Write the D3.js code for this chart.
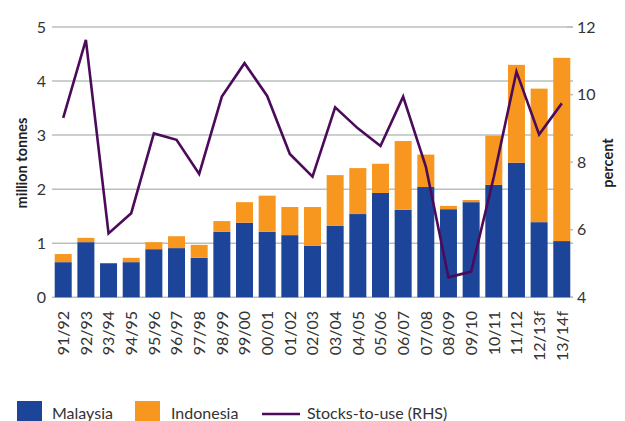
<!DOCTYPE html>
<html><head><meta charset="utf-8">
<script src="https://cdn.jsdelivr.net/npm/d3@7"></script>
<style>body{margin:0;background:#fff}svg{display:block}text{font-family:Lato,"Open Sans",sans-serif}</style>
</head><body><svg id="c" width="625" height="421"></svg>
<script>
const categories = ["91/92","92/93","93/94","94/95","95/96","96/97","97/98","98/99","99/00","00/01","01/02","02/03","03/04","04/05","05/06","06/07","07/08","08/09","09/10","10/11","11/12","12/13f","13/14f"];
const malaysia = [0.65,1.02,0.63,0.65,0.89,0.91,0.73,1.21,1.38,1.21,1.15,0.95,1.32,1.54,1.93,1.62,2.04,1.63,1.76,2.08,2.49,1.39,1.04];
const totals   = [0.80,1.10,0.63,0.73,1.02,1.13,0.97,1.41,1.76,1.88,1.67,1.67,2.26,2.39,2.47,2.89,2.64,1.69,1.80,2.99,4.30,3.86,4.43];
const indonesia = totals.map((t,i)=>+(t-malaysia[i]).toFixed(2));
const stocksToUse = [9.31,11.62,5.89,6.49,8.85,8.66,7.65,9.94,10.93,9.96,8.24,7.57,9.62,9.00,8.48,9.94,7.87,4.59,4.76,7.56,10.68,8.82,9.74];
const leftTicks = [0,1,2,3,4,5];
const rightTicks = [4,6,8,10,12];

const svg = d3.select("#c");
const x0 = 52, x1 = 573, yTop = 27, yBot = 297.3;
const x = d3.scaleBand().domain(categories).range([x0, x1]).paddingInner(0.25).paddingOuter(0.12);
const yL = d3.scaleLinear().domain([0,5]).range([yBot, yTop]);
const yR = d3.scaleLinear().domain([4,12]).range([yBot, yTop]);
const grid = "#b7c0bd";

// gridlines
svg.append("g").selectAll("line").data(leftTicks).join("line")
  .attr("x1", x0).attr("x2", x1).attr("y1", d=>yL(d)).attr("y2", d=>yL(d))
  .attr("stroke", grid).attr("stroke-width", 1.5);
// right ticks
svg.append("g").selectAll("line").data(rightTicks).join("line")
  .attr("x1", 567).attr("x2", x1).attr("y1", d=>yR(d)).attr("y2", d=>yR(d))
  .attr("stroke", grid).attr("stroke-width", 1.5);

// bars
const bars = svg.append("g");
bars.selectAll("rect.m").data(categories).join("rect").attr("class","m")
  .attr("x", d=>x(d)).attr("width", x.bandwidth())
  .attr("y", (d,i)=>yL(malaysia[i])).attr("height", (d,i)=>yL(0)-yL(malaysia[i]))
  .attr("fill", "#1c4599");
bars.selectAll("rect.i").data(categories).join("rect").attr("class","i")
  .attr("x", d=>x(d)).attr("width", x.bandwidth())
  .attr("y", (d,i)=>yL(malaysia[i]+indonesia[i])).attr("height", (d,i)=>yL(malaysia[i])-yL(malaysia[i]+indonesia[i]))
  .attr("fill", "#f7971f");

// line
const line = d3.line().x((d,i)=>x(categories[i])+x.bandwidth()/2).y(d=>yR(d));
svg.append("path").datum(stocksToUse).attr("d", line)
  .attr("fill","none").attr("stroke","#4c0a5a").attr("stroke-width",2.6).attr("stroke-linejoin","miter");

// left tick labels
svg.append("g").selectAll("text").data(leftTicks).join("text")
  .attr("x", 46).attr("y", d=>yL(d)).attr("dy","0.36em").attr("text-anchor","end")
  .attr("font-size",16).attr("fill","#333").text(d=>d);
// right tick labels
svg.append("g").selectAll("text").data(rightTicks).join("text")
  .attr("x", 577).attr("y", d=>yR(d)).attr("dy","0.36em").attr("text-anchor","start")
  .attr("font-size",16).attr("fill","#333").text(d=>d);
// x labels
svg.append("g").selectAll("text").data(categories).join("text")
  .attr("transform", d=>`translate(${x(d)+x.bandwidth()/2},311) rotate(-90)`)
  .attr("dy","0.36em").attr("text-anchor","end")
  .attr("font-size",16).attr("fill","#333").text(d=>d);

// axis titles
svg.append("text").attr("transform","translate(22,163) rotate(-90)").attr("dy","0.35em")
  .attr("text-anchor","middle").attr("font-size",14.5).attr("font-weight","bold").attr("fill","#222").text("million tonnes");
svg.append("text").attr("transform","translate(608,163) rotate(-90)").attr("dy","0.35em")
  .attr("text-anchor","middle").attr("font-size",14.5).attr("font-weight","bold").attr("fill","#222").text("percent");

// legend
const lg = svg.append("g");
lg.append("rect").attr("x",17).attr("y",401).attr("width",25).attr("height",25).attr("fill","#1c4599");
lg.append("text").attr("x",52).attr("y",419).attr("font-size",16).attr("fill","#333").text("Malaysia");
lg.append("rect").attr("x",135).attr("y",401).attr("width",25).attr("height",25).attr("fill","#f7971f");
lg.append("text").attr("x",171).attr("y",419).attr("font-size",16).attr("fill","#333").text("Indonesia");
lg.append("line").attr("x1",262).attr("x2",300).attr("y1",414).attr("y2",414).attr("stroke","#4c0a5a").attr("stroke-width",2.6);
lg.append("text").attr("x",307).attr("y",419).attr("font-size",16).attr("fill","#333").text("Stocks-to-use (RHS)");
</script></body></html>
